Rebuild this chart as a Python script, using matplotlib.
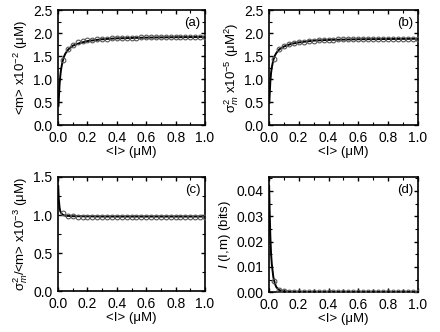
import matplotlib as mpl
mpl.use('Agg')
import matplotlib.pyplot as plt
from matplotlib.ticker import MultipleLocator

plt.rcParams['font.family'] = ['Liberation Sans', 'DejaVu Sans']
plt.rcParams['mathtext.fontset'] = 'custom'
plt.rcParams['mathtext.rm'] = 'Liberation Sans'
plt.rcParams['mathtext.it'] = 'Liberation Sans:italic'
plt.rcParams['font.size'] = 10

# marker positions <I> (uM)
x_pts = [0.033, 0.067, 0.100, 0.133, 0.167, 0.200, 0.233, 0.267, 0.300, 0.333,
         0.367, 0.400, 0.433, 0.467, 0.500, 0.533, 0.567, 0.600, 0.633, 0.667,
         0.700, 0.733, 0.767, 0.800, 0.833, 0.867, 0.900, 0.933, 0.967, 1.000]
# smooth curve positions
x_line = [0.003, 0.005, 0.01, 0.015, 0.02, 0.03, 0.04, 0.05, 0.07, 0.1,
          0.15, 0.2, 0.3, 0.4, 0.6, 0.8, 1.0]

# (a) <m> x1e-2
m_pts = [1.42, 1.65, 1.75, 1.80, 1.83, 1.85, 1.86, 1.87, 1.88, 1.885,
         1.89, 1.895, 1.90, 1.90, 1.905, 1.905, 1.91, 1.91, 1.91, 1.91,
         1.915, 1.915, 1.915, 1.915, 1.915, 1.92, 1.92, 1.92, 1.92, 1.92]
m_line = [0.42, 0.57, 0.88, 1.07, 1.21, 1.38, 1.49, 1.56, 1.65, 1.73,
          1.79, 1.83, 1.87, 1.89, 1.905, 1.915, 1.92]

# (b) variance x1e-5
v_pts = [1.45, 1.65, 1.72, 1.76, 1.79, 1.81, 1.82, 1.83, 1.84, 1.85,
         1.855, 1.86, 1.86, 1.865, 1.865, 1.87, 1.87, 1.87, 1.87, 1.875,
         1.875, 1.875, 1.875, 1.875, 1.88, 1.88, 1.88, 1.88, 1.88, 1.88]
v_line = [0.48, 0.62, 0.95, 1.14, 1.26, 1.42, 1.51, 1.57, 1.65, 1.71,
          1.77, 1.80, 1.84, 1.855, 1.87, 1.875, 1.88]

# (c) Fano factor x1e-3
f_x_line = [0.001, 0.005, 0.01, 0.015, 0.02, 0.03, 0.05, 0.1, 0.3, 1.0]
f_line = [1.38, 1.20, 1.10, 1.05, 1.03, 1.005, 0.99, 0.985, 0.98, 0.98]
f_pts = [1.03, 0.99, 0.985] + [0.98] * 27

# (d) mutual information (bits)
i_x_line = [0.002, 0.005, 0.01, 0.015, 0.02, 0.03, 0.04, 0.05, 0.07, 0.1, 0.2, 1.0]
i_line = [0.042, 0.033, 0.022, 0.015, 0.011, 0.006, 0.0035, 0.002, 0.0008, 0.0003, 0.0001, 0.0]
i_pts = [0.0045, 0.0010, 0.0003, 0.0001] + [0.0] * 26

fig = plt.figure(figsize=(4.4, 3.32), dpi=100)

panels = [
    ([0.132, 0.623, 0.334, 0.346], x_line, m_line, m_pts, (0, 2.5), 0.5, 0.25,
     '<m> x10$^{-2}$ (\u03bcM)', '(a)', '%.1f'),
    ([0.611, 0.623, 0.339, 0.346], x_line, v_line, v_pts, (0, 2.5), 0.5, 0.25,
     '\u03c3$^{2}_{m}$ x10$^{-5}$ (\u03bcM$^{2}$)', '(b)', '%.1f'),
    ([0.132, 0.123, 0.334, 0.344], f_x_line, f_line, f_pts, (0, 1.5), 0.5, 0.25,
     '\u03c3$^{2}_{m}$/<m> x10$^{-3}$ (\u03bcM)', '(c)', '%.1f'),
    ([0.611, 0.120, 0.339, 0.347], i_x_line, i_line, i_pts, (0, 0.0455), 0.01, 0.005,
     '$\\mathit{I}$ (I,m) (bits)', '(d)', '%.2f'),
]

for rect, xl, yl, yp, ylim, major, minor, ylabel, tag, fmt in panels:
    ax = fig.add_axes(rect)
    ax.plot(xl, yl, color='black', lw=1.4, zorder=2)
    ax.plot(x_pts, yp, 'o', ms=3.4, mfc='none', mec='#555555', mew=0.8, zorder=3)
    ax.set_xlim(0, 1.0)
    ax.set_ylim(*ylim)
    ax.xaxis.set_major_locator(MultipleLocator(0.2))
    ax.xaxis.set_minor_locator(MultipleLocator(0.1))
    ax.yaxis.set_major_locator(MultipleLocator(major))
    ax.yaxis.set_minor_locator(MultipleLocator(minor))
    ax.xaxis.set_major_formatter(mpl.ticker.FormatStrFormatter('%.1f'))
    ax.yaxis.set_major_formatter(mpl.ticker.FormatStrFormatter(fmt))
    ax.tick_params(which='both', direction='in', top=True, right=True)
    ax.tick_params(which='major', length=3, width=1, labelsize=10)
    ax.tick_params(axis='x', which='major', pad=4)
    ax.tick_params(axis='y', which='major', pad=4)
    ax.tick_params(which='minor', length=2, width=0.8)
    for s in ax.spines.values():
        s.set_linewidth(1.2)
    ax.set_xlabel('<I> (\u03bcM)', fontsize=9.5, labelpad=1)
    ax.set_ylabel(ylabel, fontsize=9.5, labelpad=2)
    ax.text(0.97, 0.94, tag, transform=ax.transAxes, ha='right', va='top', fontsize=9.5)

fig.savefig('out.png', dpi=100)
